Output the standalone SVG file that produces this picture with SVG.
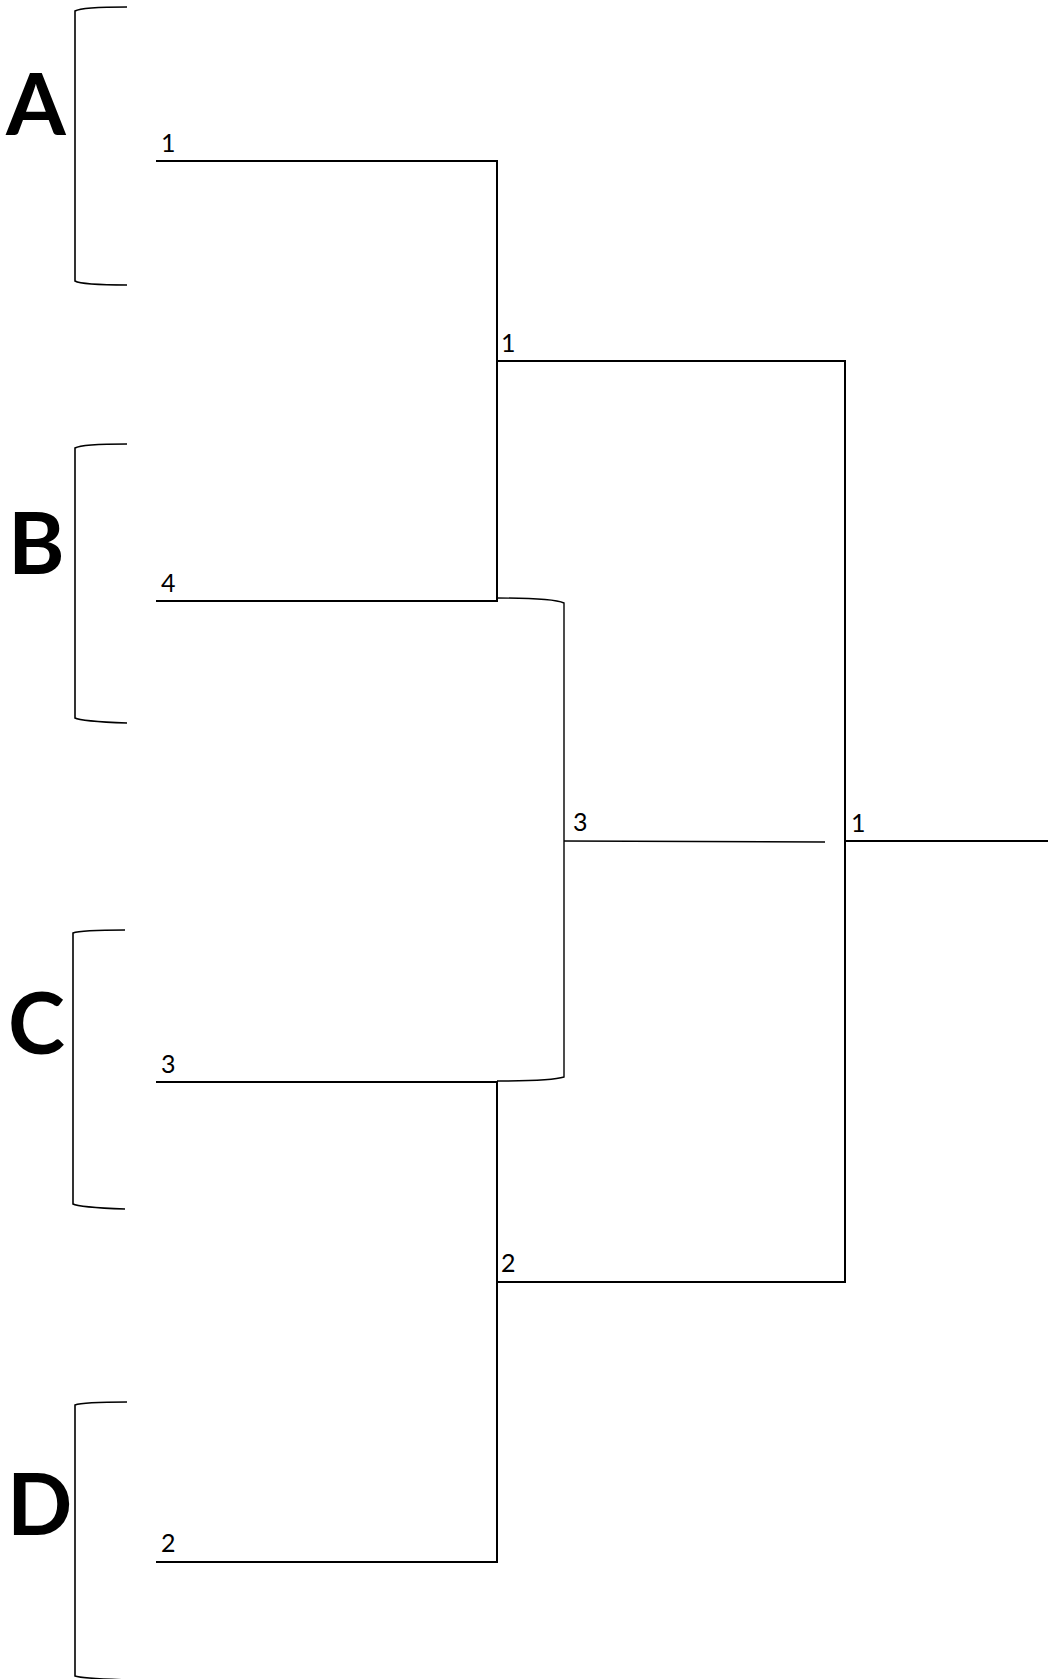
<svg xmlns="http://www.w3.org/2000/svg" width="1048" height="1679" viewBox="0 0 1048 1679">
<style>
.bg{fill:#fff}
.brk{fill:none;stroke:#000;stroke-width:1.6}
.ln{fill:none;stroke:#000;stroke-width:2}
.thin{fill:none;stroke:#000;stroke-width:1.4}
.big{font-family:Lato,"Liberation Sans",sans-serif;font-weight:700;font-size:86px;fill:#000}
.num{font-family:Lato,"Liberation Sans",sans-serif;font-size:25px;fill:#000}
</style>
<rect class="bg" x="0" y="0" width="1048" height="1679"/>
<g id="team-A">
<path class="brk" d="M127,7 C100,7 80,8 75,11 L75,281 C80,284 100,285 127,285"/>
<text class="big" x="6" y="135">A</text>
<text class="num" x="161" y="152">1</text>
</g>
<g id="team-B">
<path class="brk" d="M127,444 C100,444 80,445 75,448 L75,718 C80,721 100,722 127,723"/>
<text class="big" x="8" y="574">B</text>
<text class="num" x="161" y="592">4</text>
</g>
<g id="team-C">
<path class="brk" d="M125,930 C98,930 78,931 73,933 L73,1204 C78,1207 98,1208 125,1209"/>
<text class="big" x="8" y="1054">C</text>
<text class="num" x="161" y="1073">3</text>
</g>
<g id="team-D">
<path class="brk" d="M127,1402 C100,1402 80,1403 75,1405 L75,1676 C80,1678 100,1679 127,1680"/>
<text class="big" x="7" y="1535">D</text>
<text class="num" x="161" y="1552">2</text>
</g>
<g id="match-AB">
<text class="num" x="501" y="352">1</text>
</g>
<g id="match-CD">
<text class="num" x="501" y="1272">2</text>
</g>
<g id="match-third">
<text class="num" x="573" y="831">3</text>
</g>
<g id="match-final">
<text class="num" x="851" y="832">1</text>
</g>
<g id="connectors">
<path class="ln" d="M156,161 H497 V601 H156"/>
<path class="ln" d="M156,1082 H497 V1562 H156"/>
<path class="ln" d="M497,361 H845 V1282 H497"/>
<path class="ln" d="M845,841 H1048"/>
<path class="thin" d="M497,598 C530,598 555,599 564,603 L564,1077 C555,1080 530,1081 497,1081"/>
<path class="thin" d="M564,841 L825,842"/>
</g>
</svg>
